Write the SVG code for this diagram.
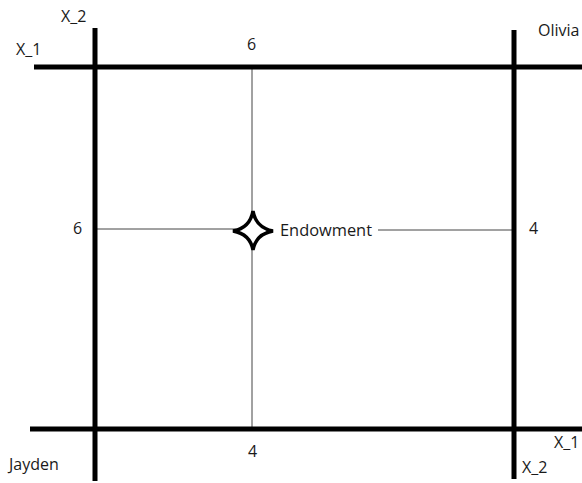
<svg xmlns="http://www.w3.org/2000/svg" width="582" height="483" viewBox="0 0 582 483">
<style>
.thick{stroke:#000;stroke-width:5;fill:none}
.thin{stroke:#444;stroke-width:1;fill:none}
text{font-family:"Open Sans","Liberation Sans",Arial,sans-serif;font-size:16px;fill:#1a1a1a}
</style>
<rect width="582" height="483" fill="#fff"/>
<g id="connectors">
<line class="thin" x1="252" y1="67" x2="252" y2="430"/>
<line class="thin" x1="95" y1="229" x2="240" y2="229"/>
<line class="thin" x1="378" y1="230" x2="514" y2="230"/>
<line class="thick" x1="34" y1="67" x2="582" y2="67"/>
<line class="thick" x1="30" y1="429" x2="582" y2="429"/>
<line class="thick" x1="95" y1="28" x2="95" y2="481"/>
<line class="thick" x1="514" y1="30" x2="514" y2="479"/>
</g>
<g id="endowment">
<path d="M253,211 Q256,228 273,231 Q256,234 253,250 Q250,234 233,231 Q250,228 253,211 Z" fill="#fff" stroke="#000" stroke-width="3.5" stroke-linejoin="miter"/>
<text x="280" y="236" textLength="92" lengthAdjust="spacingAndGlyphs" font-size="17">Endowment</text>
</g>
<g id="labels">
<text x="61" y="22">X_2</text>
<text x="16" y="55">X_1</text>
<text x="247" y="50">6</text>
<text x="538" y="36">Olivia</text>
<text x="73" y="234">6</text>
<text x="529" y="234">4</text>
<text x="248" y="457">4</text>
<text x="9" y="470">Jayden</text>
<text x="554" y="448">X_1</text>
<text x="522" y="473">X_2</text>
</g>
</svg>
